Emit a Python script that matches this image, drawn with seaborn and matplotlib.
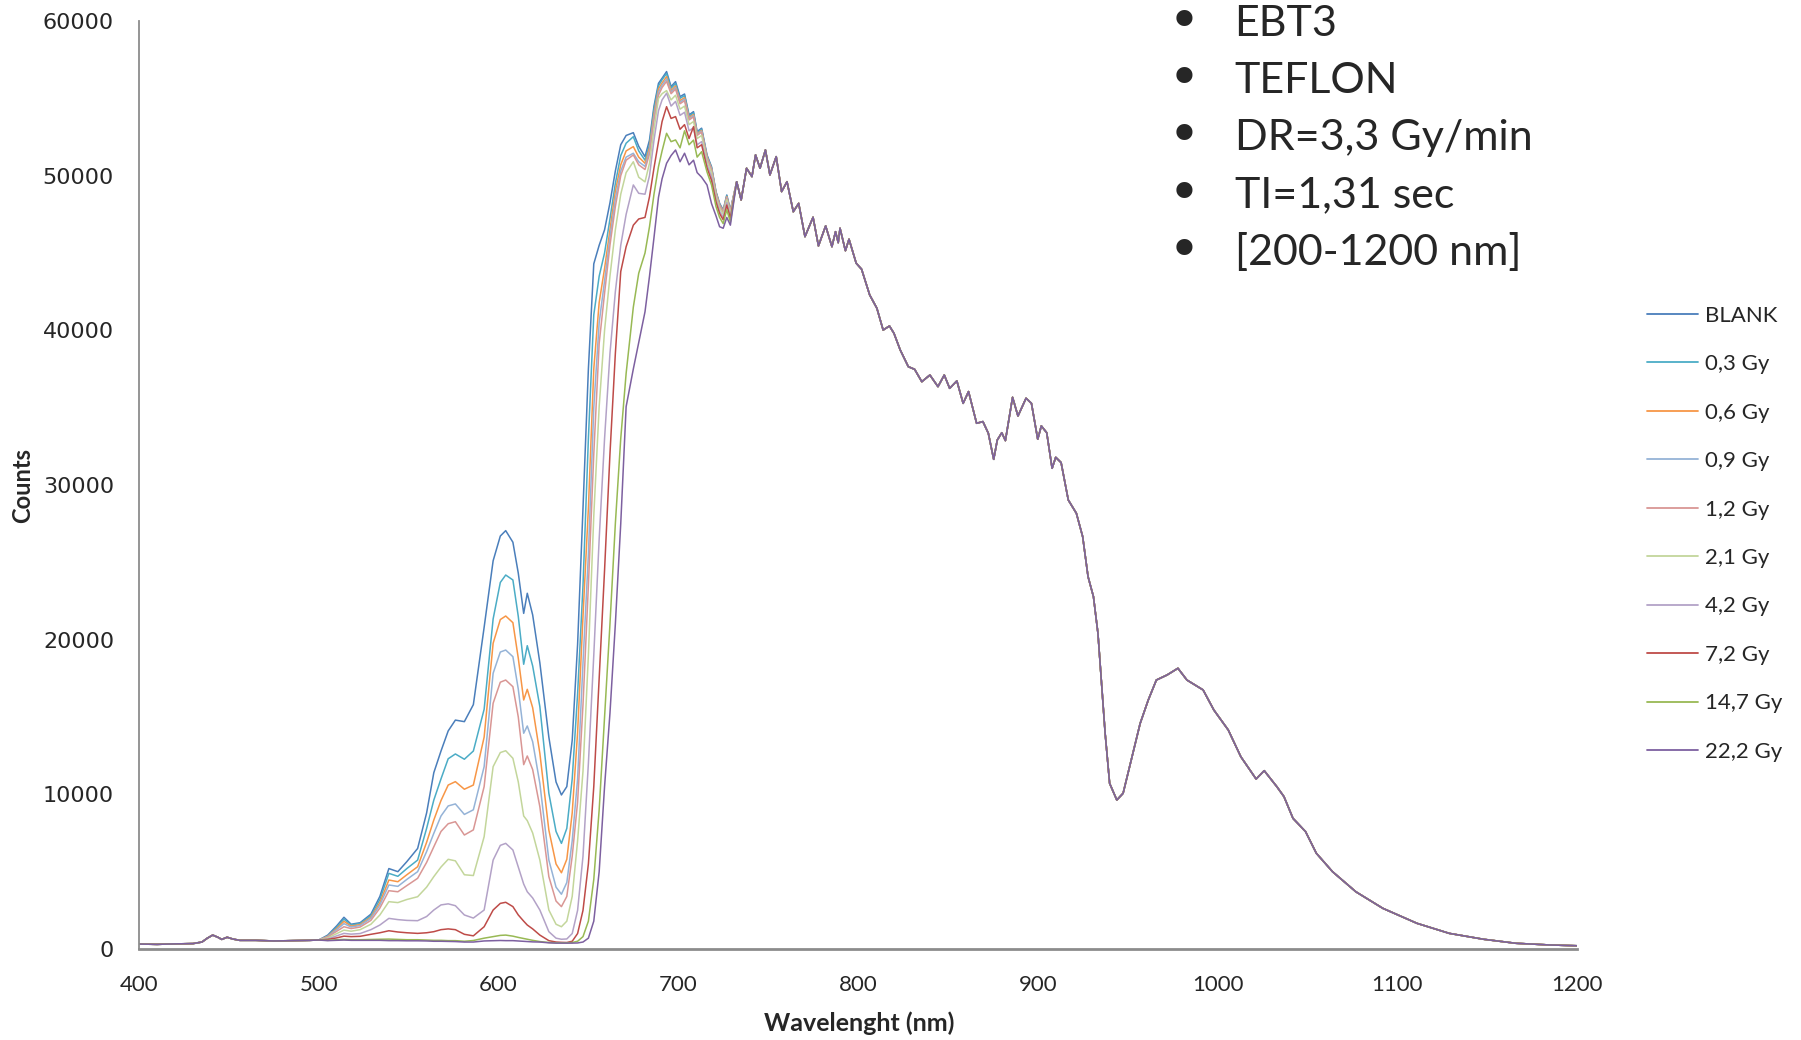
import pandas as pd
import matplotlib.pyplot as plt
import seaborn as sns
from matplotlib.lines import Line2D

# Spectra (counts vs wavelength in nm)
series_names = ['BLANK', '0,3 Gy', '0,6 Gy', '0,9 Gy', '1,2 Gy', '2,1 Gy',
                '4,2 Gy', '7,2 Gy', '14,7 Gy', '22,2 Gy']
colors = ['#4A7EBB', '#4BACC6', '#F79646', '#95B3D7', '#D99694', '#C3D69B',
          '#B3A2C7', '#BE4B48', '#98B954', '#7D60A0']

# shared baseline (below 505 nm, all films identical)
base_wl = [400, 410, 420, 430, 435, 438, 441, 444, 446, 449, 452, 456, 465, 475, 485, 495, 500]
base_counts = [320, 300, 330, 350, 450, 700, 900, 750, 620, 760, 650, 560, 560, 520, 540, 560, 580]

# region where the films differ
mid_wl = [505, 510, 514, 518, 523, 529, 534, 539, 544, 549,
          555, 560, 564, 568, 572, 576, 581, 586, 592, 597,
          601, 604, 608, 611, 614, 616, 619, 623, 628, 632,
          635, 638, 641, 644, 647, 650, 653, 656, 659, 662,
          665, 668, 671, 675, 678, 681.5, 684, 686.5, 689, 691,
          693.5, 696, 698.5, 701, 703.5, 706, 708.5, 710.5, 713, 716,
          718.5, 721, 723, 725, 727, 729]

blank = [900, 1500, 2050, 1600, 1700, 2250, 3400, 5200, 5000, 5650,
         6500, 8800, 11400, 12800, 14100, 14800, 14700, 15800, 20800, 25100,
         26700, 27050, 26300, 24300, 21700, 23000, 21600, 18500, 13700, 10800,
         9960, 10500, 13500, 19700, 28500, 37500, 44300, 45500, 46500, 48240,
         50300, 52000, 52600, 52780, 51900, 51230, 52300, 54500, 55970, 56300,
         56730, 55760, 56080, 55110, 55280, 53930, 54140, 52850, 53070, 51340,
         50580, 48970, 48210, 47780, 48750, 47780]
gy_0_3 = [850, 1400, 1930, 1550, 1650, 2150, 3200, 4890, 4700, 5200,
          5750, 7800, 9630, 11000, 12300, 12610, 12270, 12800, 15500, 21340,
          23700, 24180, 23860, 21500, 18410, 19610, 18300, 15670, 10070, 7600,
          6830, 7800, 11000, 16500, 23500, 33000, 41000, 43500, 45000, 47200,
          49500, 51300, 52100, 52520, 51600, 51000, 52000, 54300, 55800, 56200,
          56600, 55650, 55950, 55000, 55180, 53850, 54050, 52780, 53000, 51280,
          50520, 48920, 48160, 47740, 48700, 47740]
gy_0_6 = [820, 1320, 1790, 1480, 1580, 2050, 3000, 4460, 4350, 4800,
          5320, 6900, 8340, 9600, 10600, 10820, 10330, 10600, 13700, 19770,
          21300, 21530, 21100, 18800, 16100, 16790, 15600, 12650, 7690, 5500,
          4930, 5800, 8800, 14000, 21500, 28500, 37500, 41800, 44000, 46500,
          49000, 50700, 51600, 51880, 51200, 50800, 51800, 54000, 55600, 56000,
          56400, 55500, 55800, 54850, 55050, 53750, 53950, 52700, 52920, 51220,
          50470, 48880, 48120, 47700, 48650, 47700]
gy_0_9 = [800, 1250, 1640, 1420, 1520, 1980, 2850, 4140, 4050, 4500,
          5000, 6300, 7480, 8600, 9250, 9380, 8700, 9000, 11790, 17830,
          19200, 19330, 18900, 16800, 13950, 14420, 13400, 10710, 5750, 4000,
          3540, 4300, 7000, 11000, 18500, 25500, 35000, 40500, 43200, 46000,
          48500, 50300, 51200, 51450, 50900, 50600, 51600, 53800, 55400, 55850,
          56250, 55400, 55700, 54750, 54950, 53680, 53880, 52650, 52870, 51170,
          50420, 48840, 48080, 47660, 48600, 47660]
gy_1_2 = [780, 1150, 1440, 1320, 1420, 1850, 2650, 3770, 3700, 4100,
          4570, 5600, 6610, 7600, 8100, 8230, 7370, 7700, 10500, 15890,
          17250, 17390, 16960, 15000, 11920, 12480, 11600, 9200, 4680, 3100,
          2740, 3400, 6000, 9500, 15800, 23500, 32000, 39160, 42400, 45500,
          48000, 50000, 51000, 51340, 50700, 50400, 51400, 53600, 55200, 55700,
          56100, 55300, 55600, 54650, 54850, 53600, 53800, 52600, 52820, 51120,
          50380, 48800, 48040, 47620, 48560, 47620]
gy_2_1 = [720, 1000, 1220, 1150, 1250, 1600, 2200, 3060, 3000, 3200,
          3380, 4000, 4680, 5300, 5800, 5700, 4800, 4750, 7260, 11790,
          12700, 12820, 12330, 10800, 8600, 8300, 7500, 5750, 2520, 1600,
          1440, 1800, 3400, 7000, 11500, 19000, 28000, 35070, 40000, 43500,
          46500, 48800, 50200, 50900, 49900, 49600, 50800, 53000, 55000, 55300,
          55500, 54900, 55200, 54300, 54500, 53300, 53500, 52400, 52600, 50950,
          50200, 48650, 47900, 47500, 48450, 47520]
gy_4_2 = [650, 850, 1010, 960, 1000, 1250, 1550, 1980, 1900, 1850,
          1830, 2100, 2520, 2850, 2920, 2800, 2200, 2000, 2520, 5750,
          6700, 6830, 6400, 5300, 4200, 3700, 3300, 2520, 1120, 700,
          630, 650, 1000, 2500, 6000, 12000, 19000, 26500, 33000, 38500,
          42500, 45500, 47500, 49400, 48860, 48800, 50000, 52300, 54200, 54900,
          55330, 54500, 54800, 53900, 54100, 52900, 53100, 52000, 52200, 50700,
          49950, 48450, 47700, 47300, 48250, 47350]
gy_7_2 = [620, 720, 830, 800, 820, 950, 1050, 1180, 1100, 1050,
          1010, 1050, 1120, 1250, 1300, 1250, 950, 850, 1440, 2520,
          2950, 3020, 2740, 2200, 1800, 1550, 1300, 900, 540, 450,
          430, 420, 500, 1000, 2500, 5500, 10500, 17500, 24500, 32000,
          38500, 43800, 45410, 46800, 47200, 47300, 48640, 50500, 52200, 53500,
          54460, 53700, 53820, 53000, 53300, 52400, 53170, 51800, 52000, 50500,
          49700, 48300, 47550, 47150, 48100, 47250]
gy_14_7 = [560, 600, 620, 600, 600, 620, 630, 640, 620, 600,
           600, 580, 560, 560, 540, 540, 500, 550, 700, 800,
           880, 900, 830, 750, 680, 630, 560, 480, 420, 400,
           400, 400, 420, 500, 800, 1800, 4500, 9000, 15000, 21000,
           27500, 33000, 37220, 41500, 43690, 45000, 46700, 48800, 50580, 51600,
           52740, 52200, 52310, 51800, 52900, 52000, 52300, 51200, 51550, 50240,
           49400, 48000, 47300, 46900, 47800, 47000]
gy_22_2 = [540, 560, 580, 560, 560, 560, 560, 540, 540, 530,
           530, 520, 500, 500, 490, 480, 450, 450, 520, 540,
           550, 540, 540, 520, 500, 480, 460, 450, 400, 380,
           380, 380, 380, 390, 450, 700, 1800, 5000, 10500, 15240,
           21000, 27500, 35070, 37500, 39200, 41200, 43500, 46000, 48600, 49800,
           50800, 51300, 51660, 50900, 51450, 50700, 51000, 50200, 49900, 49400,
           48200, 47400, 46700, 46600, 47300, 46800]

# shared tail (above ~730 nm all curves overlap)
tail_wl = [732.5, 735, 738, 741, 743, 745.5, 748.5, 751, 754.5, 757.5,
           760.5, 764, 767, 770.5, 775, 778, 782, 785.5, 787.5, 789,
           790, 793, 795, 799, 802, 806.5, 810.5, 814, 817.5, 820,
           823.5, 828, 831.5, 835.5, 840, 844.5, 848, 851, 855, 858.5,
           861.5, 866, 869.5, 872.5, 875.5, 877.5, 880, 882, 886, 889,
           893.5, 896.5, 900, 902, 905, 908, 910, 913, 917, 921.5,
           925, 928, 931, 933.5, 935.5, 937.5, 940, 944, 947.5, 952,
           957, 961.5, 966, 972, 978, 983, 992, 998, 1006, 1013,
           1021.5, 1026, 1033, 1037, 1042, 1049, 1055, 1064, 1077, 1092,
           1111, 1129, 1148, 1166, 1185, 1200]
tail_counts = [49610, 48430, 50480, 49940, 51340, 50480, 51660, 50050, 51230, 48970,
               49610, 47670, 48210, 46060, 47310, 45460, 46750, 45410, 46380, 45670,
               46600, 45150, 45890, 44340, 43950, 42290, 41430, 40020, 40280, 39810,
               38730, 37650, 37480, 36680, 37110, 36360, 37110, 36250, 36730, 35280,
               36040, 33990, 34100, 33350, 31660, 32910, 33380, 32870, 35670, 34460,
               35610, 35280, 32960, 33820, 33380, 31080, 31790, 31450, 29030, 28170,
               26660, 24070, 22780, 20410, 17180, 13950, 10710, 9630, 10070, 12220,
               14590, 16100, 17390, 17720, 18150, 17390, 16750, 15450, 14160, 12430,
               10990, 11530, 10500, 9850, 8450, 7590, 6190, 5000, 3700, 2630,
               1660, 1010, 630, 370, 260, 210]

mid_values = [blank, gy_0_3, gy_0_6, gy_0_9, gy_1_2, gy_2_1, gy_4_2, gy_7_2, gy_14_7, gy_22_2]

# Build long table for seaborn
rows = []
for name, mid in zip(series_names, mid_values):
    wl = base_wl + mid_wl + tail_wl
    counts = base_counts + mid + tail_counts
    rows.append(pd.DataFrame({'Wavelength': wl, 'Counts': counts, 'Series': name}))
df = pd.concat(rows, ignore_index=True)

sns.set_theme(style='white')
plt.rcParams['font.family'] = ['Lato', 'DejaVu Sans']

fig = plt.figure(figsize=(18.01, 10.40), dpi=100)
ax = fig.add_axes([0.0772, 0.0875, 0.7984, 0.8923])

sns.lineplot(data=df, x='Wavelength', y='Counts', hue='Series', hue_order=series_names,
             palette=colors, linewidth=1.1, estimator=None, sort=False, legend=False, ax=ax)

ax.set_xlim(400, 1200)
ax.set_ylim(0, 60000)
ax.set_xticks(range(400, 1201, 100))
ax.set_yticks(range(0, 60001, 10000))
ax.set_yticklabels([str(v) for v in range(0, 60001, 10000)], fontfamily='DejaVu Sans', fontsize=16)
ax.tick_params(axis='x', labelsize=16, length=0, pad=19)
ax.tick_params(axis='y', length=0, pad=18)

ax.set_xlabel('Wavelenght (nm)', fontsize=18, fontweight='bold', va='center')
ax.xaxis.set_label_coords(0.5007, -0.0797)
ax.set_ylabel('Counts', fontsize=17, fontweight='bold', va='center')
ax.yaxis.set_label_coords(-0.0807, 0.5)

for side in ['top', 'right']:
    ax.spines[side].set_visible(False)
ax.spines['left'].set_color('#8C8C8C')
ax.spines['left'].set_linewidth(1.3)
ax.spines['bottom'].set_color('#8C8C8C')
ax.spines['bottom'].set_linewidth(2.0)

handles = [Line2D([0], [0], color=c, lw=1.3) for c in colors]
ax.legend(handles, series_names, loc='center left', bbox_to_anchor=(0.9145, 0.4868),
          bbox_transform=fig.transFigure, frameon=False, fontsize=16,
          handlelength=2.3, handletextpad=0.3, labelspacing=1.28,
          borderpad=0, borderaxespad=0)

# bullet list in the upper right
notes = ['EBT3', 'TEFLON', 'DR=3,3 Gy/min', 'TI=1,31 sec', '[200-1200 nm]']
note_y = [0.977, 0.922, 0.867, 0.812, 0.757]
for txt, y in zip(notes, note_y):
    fig.text(0.6575, y, '\u2022', fontsize=40, ha='center', va='center', fontfamily='DejaVu Sans')
    fig.text(0.6855, y, txt, fontsize=31, ha='left', va='center')

fig.savefig('out.png', dpi=100)
